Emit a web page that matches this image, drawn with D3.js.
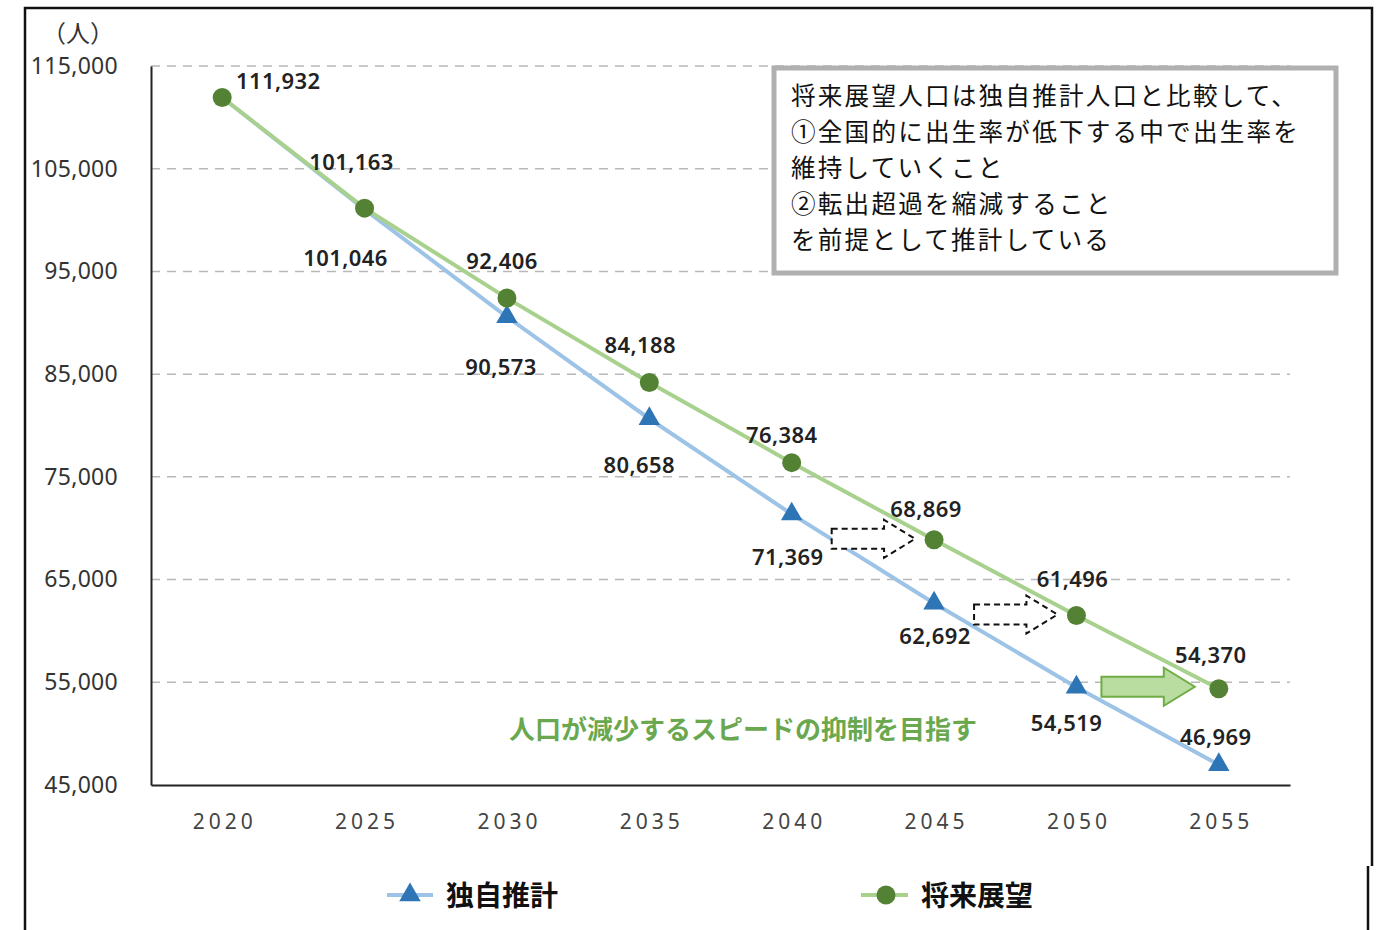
<!DOCTYPE html>
<html><head><meta charset="utf-8">
<script src="https://cdn.jsdelivr.net/npm/d3@7"></script>
<style>
body{margin:0;background:#fff;}
svg{display:block;}
</style></head>
<body>
<script>
const years = [2020, 2025, 2030, 2035, 2040, 2045, 2050, 2055];
const dokujiValues = [111932, 101046, 90573, 80658, 71369, 62692, 54519, 46969];
const shoraiValues = [111932, 101163, 92406, 84188, 76384, 68869, 61496, 54370];
const yTicks = [45000, 55000, 65000, 75000, 85000, 95000, 105000, 115000];
const seriesNames = ["独自推計", "将来展望"];
const noteLines = ["将来展望人口は独自推計人口と比較して、","①全国的に出生率が低下する中で出生率を","維持していくこと","②転出超過を縮減すること","を前提として推計している"];
const goalText = "人口が減少するスピードの抑制を目指す";

const W = 1389, H = 930;
const svg = d3.select("body").append("svg").attr("width", W).attr("height", H);
const jp = "'Noto Sans CJK JP','Noto Sans',sans-serif";
const num = "'Noto Sans','Open Sans',sans-serif";

// frame
svg.append("path").attr("d","M25,930 V8 H1372 V866 M1368,866 V930").attr("fill","none").attr("stroke","#111").attr("stroke-width",2.5);

const x = d3.scalePoint().domain(years).range([151,1290]).padding(0.5);
const y = d3.scaleLinear().domain([45000,115000]).range([785,66]);

// grid
svg.append("g").selectAll("line").data(yTicks.filter(d=>d>45000)).join("line")
  .attr("x1",151).attr("x2",1290).attr("y1",d=>y(d)).attr("y2",d=>y(d))
  .attr("stroke","#b8b8b8").attr("stroke-width",1.5).attr("stroke-dasharray","9,7");

// axes
const yAxis = svg.append("g").attr("transform","translate(151,0)")
  .call(d3.axisLeft(y).tickValues(yTicks).tickSize(0).tickPadding(33).tickFormat(d3.format(",")));
yAxis.select(".domain").attr("stroke","#222").attr("stroke-width",2);
yAxis.selectAll("text").attr("font-family",num).attr("font-size",23).attr("fill","#333").attr("letter-spacing","0.3px");

const xAxis = svg.append("g").attr("transform","translate(0,785)")
  .call(d3.axisBottom(x).tickSize(0).tickPadding(29).tickFormat(d=>String(d)));
xAxis.select(".domain").attr("stroke","#222").attr("stroke-width",2);
xAxis.selectAll("text").attr("font-family",num).attr("font-size",21).attr("fill","#444").attr("letter-spacing","4px").attr("dx","2px");

svg.append("text").attr("x",78).attr("y",42).attr("text-anchor","middle").attr("font-family",jp).attr("font-size",24).attr("fill","#333").text("（人）");

// lines
const line = d3.line().x((d,i)=>x(years[i])).y(d=>y(d));
const blueLine = "#9dc3e6", blueMark = "#2e75b6", greenLine = "#a9d18e", greenMark = "#548235";
svg.append("path").datum(dokujiValues).attr("d",line).attr("fill","none").attr("stroke",blueLine).attr("stroke-width",4);
svg.append("path").datum(shoraiValues).attr("d",line).attr("fill","none").attr("stroke",greenLine).attr("stroke-width",4);

const tri = d3.symbol().type(d3.symbolTriangle).size(200);
svg.append("g").selectAll("path").data(dokujiValues.map((v,i)=>({v,i})).filter(d=>d.i>=2)).join("path")
  .attr("d",tri).attr("transform",d=>`translate(${x(years[d.i])},${y(d.v)})`).attr("fill",blueMark);
svg.append("g").selectAll("circle").data(shoraiValues).join("circle")
  .attr("cx",(d,i)=>x(years[i])).attr("cy",d=>y(d)).attr("r",9.5).attr("fill",greenMark);

// labels
const fmt = d3.format(",");
const gOff = [[56,-18],[-13,-47],[-5,-38],[-9,-38],[-10,-29],[-8,-32],[-4,-38],[-8,-35]];
const bOff = [null,[-19,48],[-6,49],[-10,45],[-4,42],[1,32],[-10,35],[-3,-29]];
const lab = svg.append("g").attr("font-family",num).attr("font-size",22).attr("font-weight",600).attr("fill","#222").attr("text-anchor","middle").attr("dominant-baseline","central").attr("letter-spacing","0.4px");
shoraiValues.forEach((v,i)=>{
  lab.append("text").attr("x",x(years[i])+gOff[i][0]).attr("y",y(v)+gOff[i][1]).text(fmt(v));
});
dokujiValues.forEach((v,i)=>{
  if(!bOff[i]) return;
  lab.append("text").attr("x",x(years[i])+bOff[i][0]).attr("y",y(v)+bOff[i][1]).text(fmt(v));
});

// arrows
function arrowPath(x0,x1,cy){
  const bh=10, hh=19, hl=31;
  return `M${x0},${cy-bh} H${x1-hl} V${cy-hh} L${x1},${cy} L${x1-hl},${cy+hh} V${cy+bh} H${x0} Z`;
}
[[2040,2045],[2045,2050]].forEach(([a,b])=>{
  const vi = years.indexOf(b);
  svg.append("path").attr("d",arrowPath(x(a)+40,x(b)-19,y(shoraiValues[vi])-1))
    .attr("fill","#fff").attr("stroke","#111").attr("stroke-width",2).attr("stroke-dasharray","6,4");
});
{
  const vi = years.indexOf(2055);
  svg.append("path").attr("d",arrowPath(x(2050)+25,x(2055)-24,y(shoraiValues[vi])-2))
    .attr("fill","#b9dca0").attr("stroke","#70ad47").attr("stroke-width",2);
}

svg.append("text").attr("x",743).attr("y",727).attr("text-anchor","middle").attr("dominant-baseline","central")
  .attr("font-family",jp).attr("font-size",26).attr("font-weight",700).attr("fill","#6aa84f").text(goalText);

// note box
svg.append("rect").attr("x",774).attr("y",68).attr("width",562).attr("height",205).attr("fill","#fff").attr("stroke","#b0b0b0").attr("stroke-width",5);
svg.append("g").selectAll("text").data(noteLines).join("text")
  .attr("x",791).attr("y",(d,i)=>94+i*36).attr("dominant-baseline","central")
  .attr("font-family",jp).attr("font-size",24.6).attr("letter-spacing","2.2px").attr("fill","#111").text(d=>d);

// legend
const lg = svg.append("g");
lg.append("line").attr("x1",387).attr("x2",433).attr("y1",895).attr("y2",895).attr("stroke",blueLine).attr("stroke-width",4);
lg.append("path").attr("d",tri).attr("transform","translate(410,895)").attr("fill",blueMark);
lg.append("text").attr("x",446).attr("y",894).attr("dominant-baseline","central").attr("font-family",jp).attr("font-size",28).attr("font-weight",700).attr("fill","#111").text(seriesNames[0]);
lg.append("line").attr("x1",861).attr("x2",908).attr("y1",895).attr("y2",895).attr("stroke",greenLine).attr("stroke-width",4);
lg.append("circle").attr("cx",886).attr("cy",895).attr("r",9.5).attr("fill",greenMark);
lg.append("text").attr("x",921).attr("y",894).attr("dominant-baseline","central").attr("font-family",jp).attr("font-size",28).attr("font-weight",700).attr("fill","#111").text(seriesNames[1]);
</script>
</body></html>
